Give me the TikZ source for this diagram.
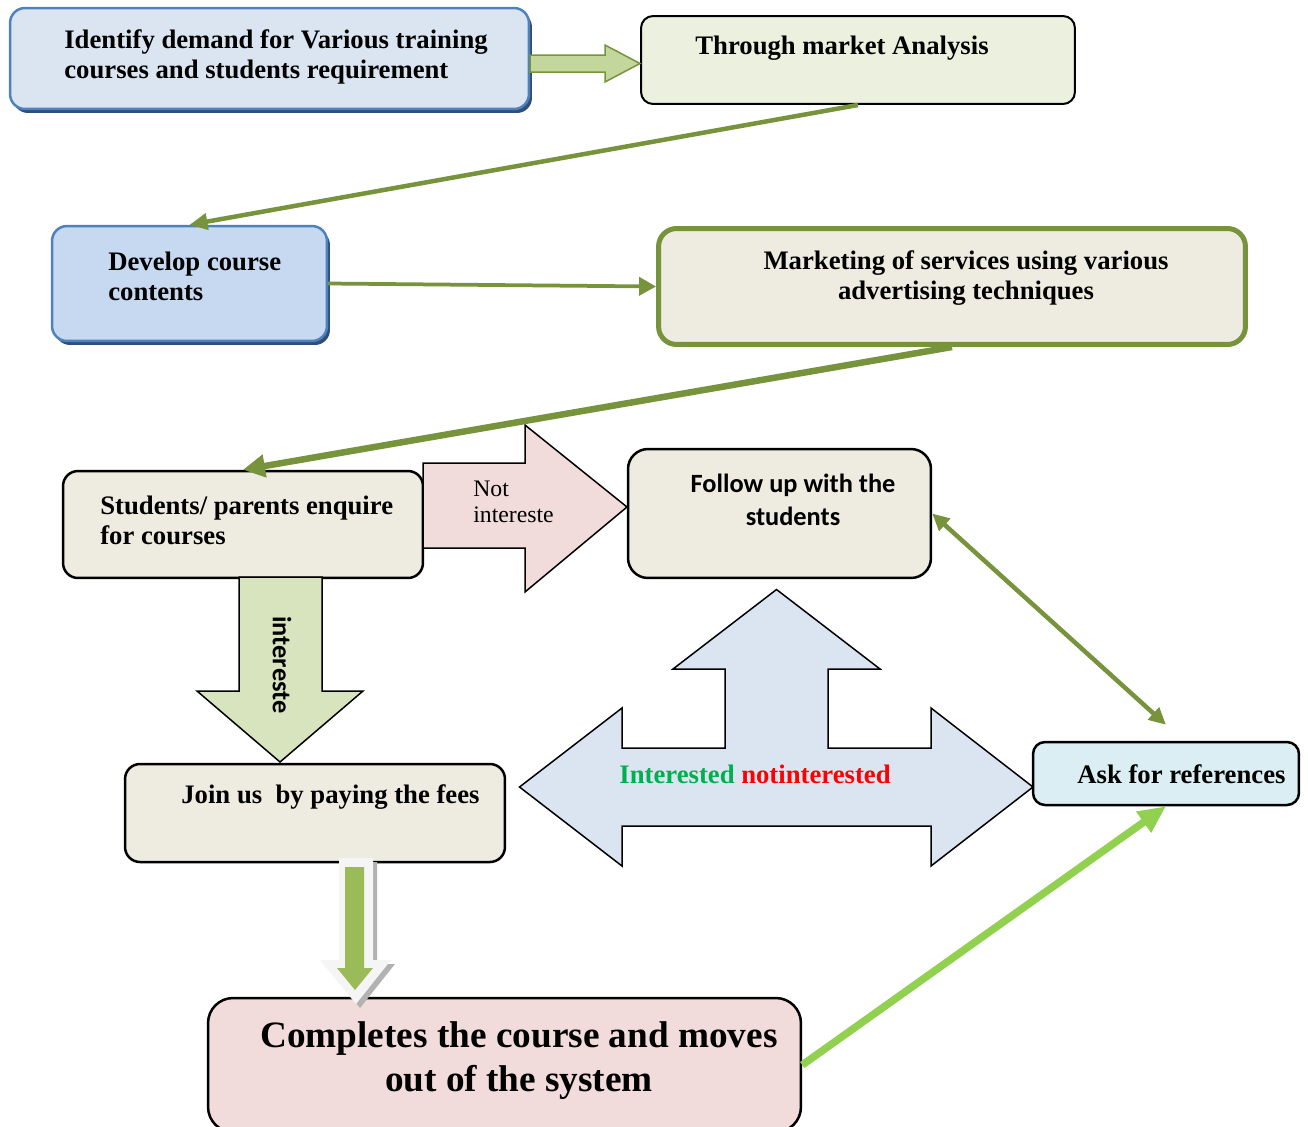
\documentclass[tikz,border=0pt]{standalone}
\usepackage{fontspec}
\setmainfont{Liberation Serif}
\newfontfamily\calfont{Carlito}
\usetikzlibrary{arrows.meta,shadows}
\definecolor{boxblue}{HTML}{DBE5F1}
\definecolor{boxblueb}{HTML}{C6D9F1}
\definecolor{lineblue}{HTML}{4F81BD}
\definecolor{shadeblue}{HTML}{2F4F7A}
\definecolor{boxgreen}{HTML}{EBF1DE}
\definecolor{boxtan}{HTML}{EEECE1}
\definecolor{boxpink}{HTML}{F2DCDB}
\definecolor{boxcyan}{HTML}{DAEEF3}
\definecolor{linegreen}{HTML}{77933C}
\definecolor{limegreen}{HTML}{92D050}
\definecolor{arrowgreen}{HTML}{C3D69B}
\definecolor{downgreen}{HTML}{D7E4BD}
\definecolor{fillgreen}{HTML}{9BBB59}
\definecolor{intgreen}{HTML}{00B050}

\begin{document}
\begin{tikzpicture}[x=0.02cm, y=-0.02cm,
    box/.style = {draw, line width=0.05cm, rounded corners=0.3cm, inner sep=0pt},
    bluebox/.style = {box, draw=lineblue, drop shadow={shadow xshift=0.06cm, shadow yshift=-0.08cm, fill=shadeblue, opacity=1}},
    txt/.style = {font=\fontsize{15.2}{17}\selectfont\bfseries, align=left, inner sep=0pt},
    blockarrow/.style = {draw, line width=0.03cm, line join=miter},
    link/.style = {draw=linegreen, line width=0.09cm, -{Triangle[length=0.36cm, width=0.32cm]}}]
    \useasboundingbox (0,0) rectangle (1308,1126);

    % boxes
    \node[bluebox, fill=boxblue, minimum width=10.38cm, minimum height=2.02cm] (demand) at (269.5,58.5) {};
    \node[box, fill=boxgreen, rounded corners=0.24cm, line width=0.04cm, minimum width=8.68cm, minimum height=1.76cm] (market) at (858,60) {};
    \node[bluebox, fill=boxblueb, minimum width=5.5cm, minimum height=2.3cm] (develop) at (189.5,283.5) {};
    \node[box, fill=boxtan, draw=linegreen, line width=0.1cm, rounded corners=0.36cm, minimum width=11.74cm, minimum height=2.32cm] (marketing) at (952,286.5) {};
    \node[box, fill=boxtan, minimum width=7.2cm, minimum height=2.14cm] (enquire) at (243,524.5) {};
    \node[box, fill=boxtan, rounded corners=0.4cm, minimum width=6.06cm, minimum height=2.58cm] (follow) at (779.5,513.5) {};
    \node[box, fill=boxtan, minimum width=7.6cm, minimum height=1.96cm] (join) at (315,813) {};
    \node[box, fill=boxcyan, rounded corners=0.24cm, minimum width=5.32cm, minimum height=1.26cm] (ask) at (1166,773.5) {};
    \node[box, fill=boxpink, rounded corners=0.5cm, minimum width=11.86cm, minimum height=2.68cm] (complete) at (504.5,1065) {};

    % texts
    \node[txt, anchor=west] (demandtxt) at (64,57) {Identify demand for Various training\\courses and students requirement};
    \node[txt, anchor=west] (markettxt) at (695,48) {Through market Analysis};
    \node[txt, anchor=west] (developtxt) at (108,276) {Develop course\\contents};
    \node[txt, align=center] (marketingtxt) at (966,278) {Marketing of services using various\\advertising techniques};
    \node[txt, anchor=west] (enquiretxt) at (100,520) {Students/ parents enquire\\for courses};
    \node[txt, font=\fontsize{15}{19}\selectfont\calfont\bfseries, align=center] (followtxt) at (793,500) {Follow up with the\\students};
    \node[txt, anchor=west] (jointxt) at (181,797) {Join us~ by paying the fees};
    \node[txt, anchor=west] (asktxt) at (1077,774) {Ask for references};
    \node[txt, font=\fontsize{21.2}{25}\selectfont\bfseries, align=center] (completetxt) at (519,1061) {Completes the course and moves\\out of the system};

    % block arrows
    \draw[blockarrow, fill=arrowgreen, draw=linegreen] (530,55) -- (605,55) -- (605,45) -- (640,63.5) -- (605,82) -- (605,72) -- (530,72) -- cycle;
    \draw[blockarrow, fill=boxpink] (423,463) -- (525,463) -- (525,425) -- (627,507) -- (525,592) -- (525,548) -- (423,548) -- cycle;
    \node[font=\fontsize{13.5}{14.5}\selectfont, align=left, anchor=west, inner sep=0pt] (nottxt) at (473,502) {Not\\intereste};
    \draw[blockarrow, fill=downgreen] (239,577) -- (322,577) -- (322,691) -- (363,691) -- (280,762) -- (197,691) -- (239,691) -- cycle;
    \node[font=\fontsize{15}{17}\selectfont\calfont\bfseries, rotate=-90, inner sep=0pt] (inttxt) at (282,665) {intereste};
    \draw[blockarrow, fill=boxblue] (519.5,787) -- (622,708) -- (622,748) -- (725,748) -- (725,669) -- (673,669)
        -- (776.5,589.5) -- (880,669) -- (828,669) -- (828,748) -- (931,748) -- (931,708) -- (1033,787)
        -- (931,866) -- (931,826) -- (622,826) -- (622,866) -- cycle;
    \node[txt] (choicetxt) at (755,774) {\textcolor{intgreen}{Interested} \textcolor{red}{notinterested}};
    \fill[gray!60] (343,862) -- (377,862) -- (377,964) -- (395,964) -- (360,1008) -- (324,964) -- (343,964) -- cycle;
    \fill[gray!8] (339,858) -- (373,858) -- (373,960) -- (391,960) -- (356,1004) -- (320,960) -- (339,960) -- cycle;
    \fill[fillgreen] (345,867) -- (364,867) -- (364,968) -- (373,968) -- (355,990) -- (337,968) -- (345,968) -- cycle;

    % connectors
    \draw[link] (market.south) -- (develop.north);
    \draw[link, line width=0.075cm, -{Triangle[length=0.34cm, width=0.36cm]}] (develop.east) -- (marketing.west);
    \draw[link, line width=0.13cm, -{Triangle[length=0.44cm, width=0.44cm]}] (marketing.south) -- (enquire.north);
    \draw[link, {Triangle[length=0.34cm, width=0.32cm]}-{Triangle[length=0.34cm, width=0.32cm]}] (follow.east) -- ([yshift=0.32cm]ask.north);
    \draw[link, draw=limegreen, line width=0.15cm, -{Triangle[length=0.55cm, width=0.48cm]}] (complete.east) -- (ask.south);
\end{tikzpicture}
\end{document}
